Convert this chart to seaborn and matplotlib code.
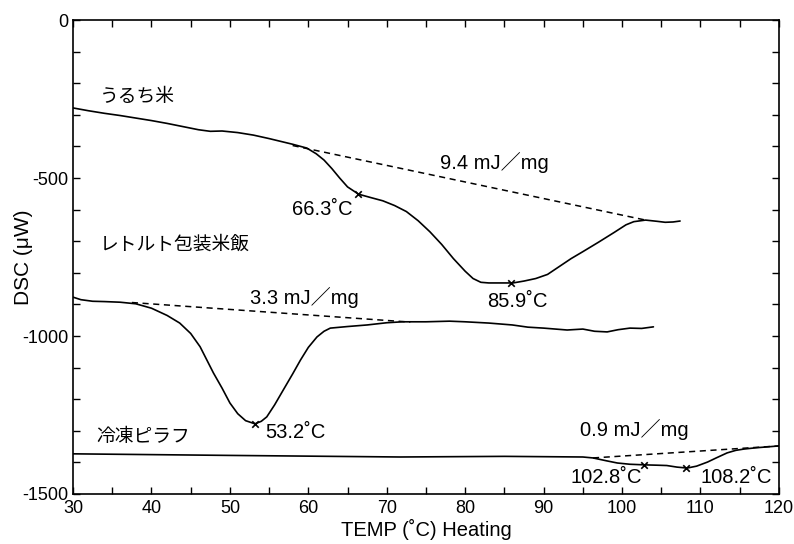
import numpy as np
import pandas as pd
import matplotlib
matplotlib.use("Agg")
import matplotlib.pyplot as plt
from matplotlib.ticker import MultipleLocator, FixedLocator
import seaborn as sns

sns.set_theme(style="ticks")
plt.rcParams['font.family'] = ['Liberation Sans', 'Noto Sans CJK JP', 'DejaVu Sans']
plt.rcParams['axes.unicode_minus'] = False
plt.rcParams['text.color'] = 'black'
plt.rcParams['axes.labelcolor'] = 'black'
plt.rcParams['xtick.color'] = 'black'
plt.rcParams['ytick.color'] = 'black'

# うるち米 (non-glutinous rice)
uruchi_temp = [30, 32, 34, 36, 38, 40, 42, 44, 46, 47.5, 49, 51, 53, 55, 56.5, 58,
               59.8, 61, 62, 63, 64, 65, 66.4, 68, 69.5, 71, 72.5, 74, 75.5, 77,
               78.5, 80, 81, 82, 83, 85, 86.1, 87.5, 89, 90.5, 92, 93.5, 95, 97, 99,
               100.5, 101.5, 103, 104.5, 105.5, 106.5, 107.4]
uruchi_dsc = [-278, -287, -295, -302, -310, -318, -327, -337, -347, -352, -351, -356,
              -364, -375, -384, -393, -405, -423, -443, -470, -500, -528, -551, -562,
              -572, -587, -606, -635, -670, -710, -755, -795, -818, -830, -832, -832,
              -832, -826, -818, -805, -780, -755, -733, -703, -672, -648, -638, -633,
              -637, -640, -639, -636]

# レトルト包装米飯 (retort packed cooked rice)
retort_temp = [30, 31, 32.5, 34, 36, 38, 40, 42, 43.6, 45, 46.2, 47.9, 49, 50, 51, 52,
               53.2, 54, 54.7, 55.7, 56.8, 58, 59, 60, 61.1, 62, 62.8, 65, 67.5, 70,
               72, 75, 78, 80, 83, 86, 88, 90, 93, 95, 96.5, 98.1, 99.5, 101, 102.5, 104]
retort_dsc = [-877, -885, -890, -891, -893, -898, -912, -935, -959, -992, -1034, -1117,
              -1165, -1212, -1246, -1268, -1278, -1270, -1256, -1218, -1171, -1120,
              -1076, -1036, -1003, -985, -975, -970, -965, -958, -955, -955, -953,
              -955, -959, -965, -972, -975, -981, -978, -985, -987, -980, -975, -976,
              -971]

# 冷凍ピラフ (frozen pilaf)
pilaf_temp = [30, 50, 71.7, 85, 95, 96.3, 98, 99.4, 101, 103, 104.5, 105.7, 107, 108.3,
              109.5, 110.9, 112, 113.4, 114.5, 115.5, 117, 118.5, 120]
pilaf_dsc = [-1373, -1378, -1383, -1381, -1383, -1386, -1395, -1402, -1406, -1408,
             -1409, -1410, -1415, -1418, -1412, -1399, -1386, -1370, -1362, -1358,
             -1354, -1351, -1348]

# baselines used for the enthalpy
base1_temp = [58.0, 103.0]
base1_dsc = [-397, -633]
base2_temp = [37.5, 73.0]
base2_dsc = [-894, -956]
base3_temp = [96.3, 120.0]
base3_dsc = [-1386, -1348]

# peak markers
peak_temp = [66.3, 85.9, 53.2, 102.8, 108.2]
peak_dsc = [-551, -832, -1278, -1408, -1418]

frames = []
for name, t, d in [("uruchi", uruchi_temp, uruchi_dsc),
                   ("retort", retort_temp, retort_dsc),
                   ("pilaf", pilaf_temp, pilaf_dsc)]:
    frames.append(pd.DataFrame({"temp": t, "dsc": d, "sample": name}))
df = pd.concat(frames, ignore_index=True)

fig = plt.figure(figsize=(7.94, 5.44), dpi=100)
ax = fig.add_axes([0.092, 0.092, 0.889, 0.871])

sns.lineplot(data=df, x="temp", y="dsc", units="sample", estimator=None,
             sort=False, color="black", linewidth=1.2, ax=ax)
for bt, bd in [(base1_temp, base1_dsc), (base2_temp, base2_dsc), (base3_temp, base3_dsc)]:
    sns.lineplot(x=bt, y=bd, color="black", linewidth=1.1, linestyle=(0, (4, 3)), ax=ax)
sns.scatterplot(x=peak_temp, y=peak_dsc, marker="x", s=22, color="black",
                linewidth=1.2, ax=ax, zorder=5)

ax.set_xlim(30, 120)
ax.set_ylim(-1500, 0)
ax.xaxis.set_major_locator(MultipleLocator(10))
ax.xaxis.set_minor_locator(MultipleLocator(5))
ax.yaxis.set_major_locator(FixedLocator([-1500, -1000, -500, 0]))
ax.yaxis.set_minor_locator(MultipleLocator(100))
ax.tick_params(which="both", direction="in", top=True, right=True, length=5,
               width=1, color="black", labelcolor="black", labelsize=13)
ax.tick_params(axis="x", pad=4)
for sp in ax.spines.values():
    sp.set_color("black")
    sp.set_linewidth(1.2)

ax.set_xlabel("TEMP (˚C) Heating", fontsize=14.5, labelpad=2)
ax.set_ylabel("DSC (μW)", fontsize=15)
ax.yaxis.set_label_coords(-0.057, 0.5)

fs_jp = 13.5
fs = 14.5
ax.text(33.4, -243, "うるち米", fontsize=fs_jp, va="center", ha="left")
ax.text(33.4, -712, "レトルト包装米飯", fontsize=fs_jp, va="center", ha="left")
ax.text(33.0, -1320, "冷凍ピラフ", fontsize=fs_jp, va="center", ha="left")
ax.text(76.8, -452, "9.4 mJ／mg", fontsize=fs, va="center", ha="left")
ax.text(57.9, -601, "66.3˚C", fontsize=fs, va="center", ha="left")
ax.text(82.8, -892, "85.9˚C", fontsize=fs, va="center", ha="left")
ax.text(52.6, -877, "3.3 mJ／mg", fontsize=fs, va="center", ha="left")
ax.text(54.5, -1307, "53.2˚C", fontsize=fs, va="center", ha="left")
ax.text(94.7, -1297, "0.9 mJ／mg", fontsize=fs, va="center", ha="left")
ax.text(93.4, -1449, "102.8˚C", fontsize=fs, va="center", ha="left")
ax.text(110.0, -1449, "108.2˚C", fontsize=fs, va="center", ha="left")

fig.savefig("out.png", dpi=100)
